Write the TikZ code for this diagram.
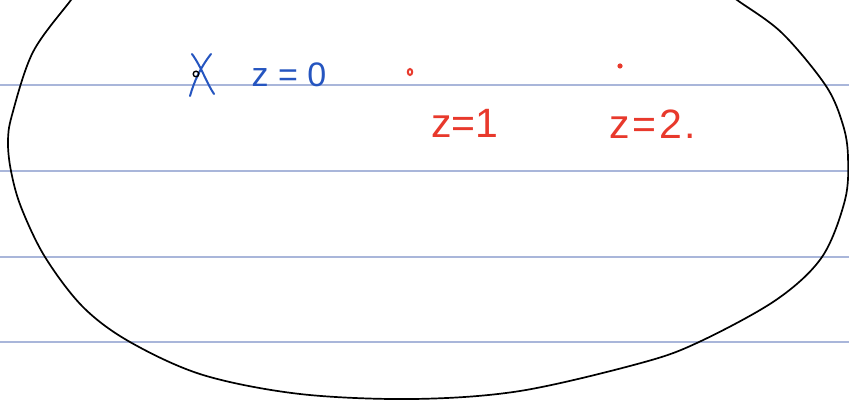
\documentclass[tikz,border=0pt]{standalone}
\usepackage{fontspec}
\setmainfont{Liberation Sans}
\definecolor{ruleblue}{HTML}{A9B6DA}
\definecolor{penblue}{HTML}{2555C0}
\definecolor{penred}{HTML}{E8392C}
\tikzset{
  rule/.style={draw=ruleblue, line width=1.5pt},
  blob/.style={draw=black, line width=1.7pt},
  bluepen/.style={draw=penblue, line width=2pt, line cap=round},
  redpen/.style={draw=penred, line width=2pt, line cap=round},
  bluetext/.style={text=penblue, inner sep=0pt, font=\fontsize{34}{34}\selectfont},
  redtext/.style={text=penred, inner sep=0pt, font=\fontsize{41}{41}\selectfont}
}
\begin{document}
\begin{tikzpicture}[x=1pt,y=-1pt]
\useasboundingbox (0,0) rectangle (849,403);
\fill[white] (0,0) rectangle (849,403);
% ruled lines
\foreach \yy in {85,171,257,342} {
  \draw[rule] (0,\yy) -- (849,\yy);
}
% closed curve
\begin{scope}
\clip (0,0) rectangle (849,403);
\draw[blob] plot[smooth, tension=0.55] coordinates {
  (88,-22) (71,0) (33,52) (12,115) (8,142) (11,171) (21,207)
  (45,257) (83,307) (130,342) (203,375) (300,394) (413,399) (520,391)
  (641,363) (699,342) (776,300) (822,257) (845,200) (848,157) (843,125)
  (826,86) (782,33) (737,0) (712,-18)};
\end{scope}
% zero marker
\draw[bluepen] (192,54) .. controls (202,68) and (206,82) .. (214,94);
\draw[bluepen] (211,54) .. controls (200,68) and (194,82) .. (190,96);
\draw[black, line width=1.4pt] (196,74) circle (2.8pt);
\node[bluetext] (z0) at (289,75) {z = 0};
% point 1
\draw[redpen] (410,72) ellipse (2.2pt and 3pt);
\node[redtext] (z1) at (465,123) {z=1};
% point 2
\fill[penred] (620,66) circle (2.6pt);
\node[redtext, font=\fontsize{41}{41}\selectfont\addfontfeature{LetterSpace=6}] (z2) at (653,124) {z=2.};
\end{tikzpicture}
\end{document}
